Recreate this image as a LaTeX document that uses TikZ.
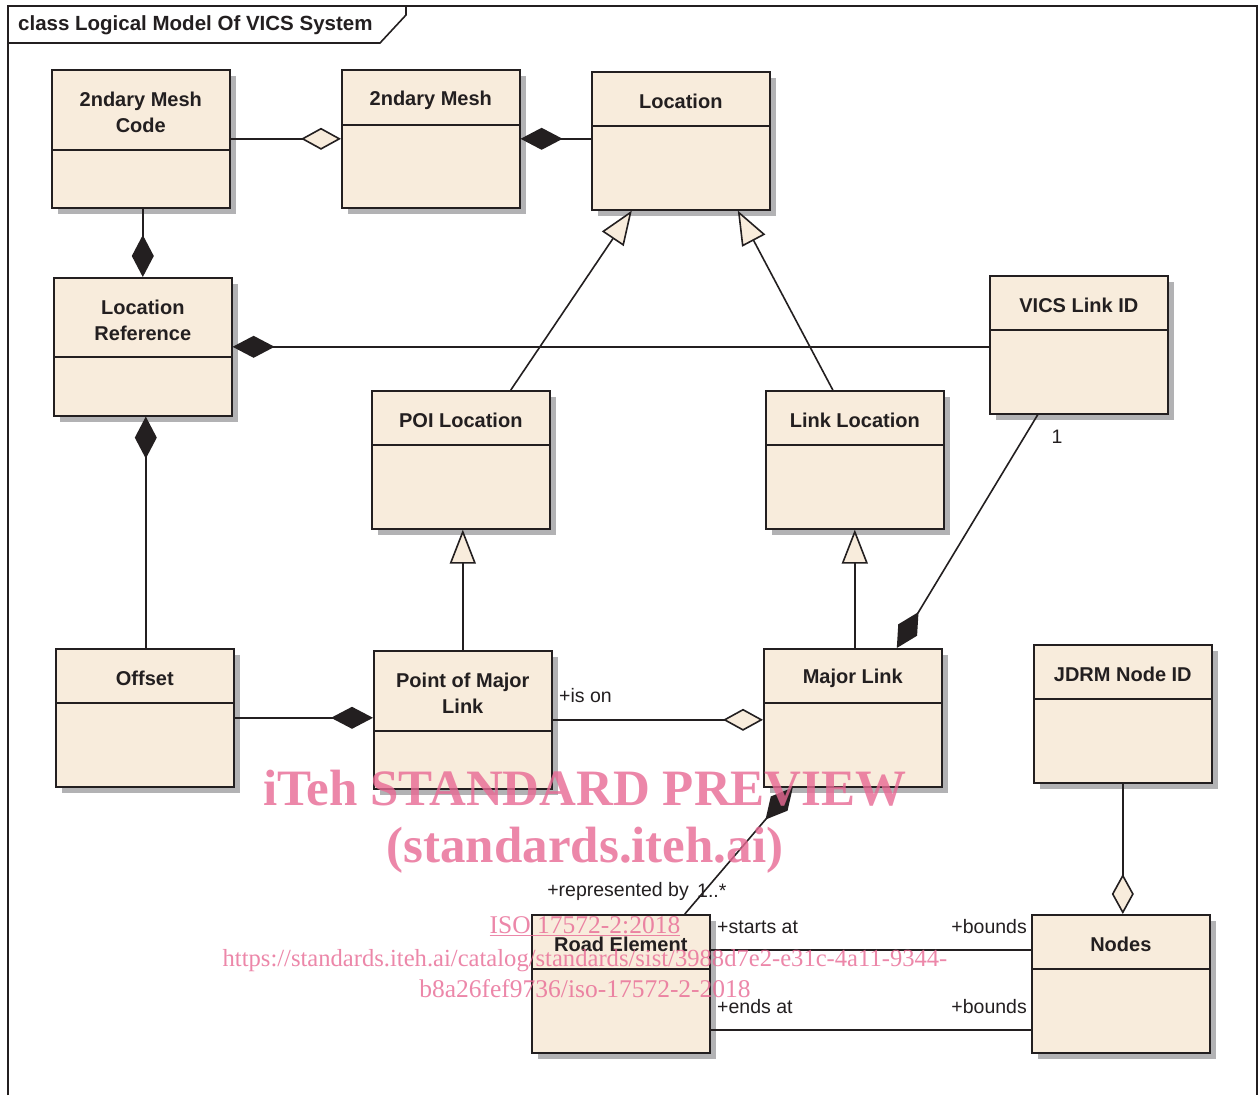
\documentclass[tikz,border=0pt]{standalone}
\usepackage{fontspec}
\setmainfont{Liberation Sans}
\newfontfamily\wmfont{Liberation Serif}
\usetikzlibrary{arrows.meta,shadows,calc}
\definecolor{beige}{RGB}{248,236,220}
\definecolor{ink}{RGB}{35,31,32}
\definecolor{shade}{RGB}{178,178,180}
\definecolor{wmpink}{RGB}{232,105,148}
\tikzset{
 cls/.style={draw=ink, line width=1.6pt, fill=beige, minimum width=178pt, minimum height=138pt, inner sep=0pt, anchor=north west, drop shadow={shadow xshift=6pt, shadow yshift=-6pt, fill=shade, opacity=1}},
 ctitle/.style={font=\fontsize{20}{26}\selectfont\bfseries, align=center, text=ink, inner sep=0pt},
 ln/.style={draw=ink, line width=1.6pt},
 comp/.style={ln, -{Diamond[length=42pt,width=22pt,fill=ink]}},
 aggr/.style={ln, -{Diamond[length=40pt,width=22pt,fill=beige]}},
 gen/.style={ln, -{Triangle[length=34pt,width=26pt,fill=beige]}},
 rlbl/.style={font=\fontsize{19.5}{22}\selectfont, text=ink, inner sep=0pt},
 wm/.style={text=wmpink, opacity=0.8, inner sep=0pt, anchor=base},
}
\newcommand\classbox[5]{%
 \node[cls] (#1) at (#2,#3) {};
 \draw[ln] ([yshift=-#4pt]#1.north west) -- ([yshift=-#4pt]#1.north east);
 \node[ctitle] (#1t) at ([yshift={-#4pt/2-3pt}]#1.north) {#5};
}
\begin{document}
\begin{tikzpicture}[x=1pt,y=-1pt]
\useasboundingbox (0,0) rectangle (1260,1095);
\fill[white] (0,0) rectangle (1260,1095);
% frame
\draw[ln] (8,1095) -- (8,6) -- (1257,6) -- (1257,1095);
\draw[ln] (8,43) -- (380,43) -- (406,15) -- (406,6);
\node[anchor=west, font=\fontsize{20.5}{24}\selectfont\bfseries, text=ink, inner sep=0pt] (title) at (18,25) {class Logical Model Of VICS System};
% classes
\classbox{mc}{51}{69}{81}{2ndary Mesh\\Code}
\classbox{mesh}{341}{69}{56}{2ndary Mesh}
\classbox{loc}{591}{71}{55}{Location}
\classbox{lr}{53}{277}{80}{Location\\Reference}
\classbox{vics}{989}{275}{55}{VICS Link ID}
\classbox{poi}{371}{390}{55}{POI Location}
\classbox{ll}{765}{390}{55}{Link Location}
\classbox{off}{55}{648}{55}{Offset}
\classbox{pml}{373}{650}{81}{Point of Major\\Link}
\classbox{ml}{763}{648}{55}{Major Link}
\classbox{jdrm}{1033}{644}{55}{JDRM Node ID}
\classbox{road}{531}{914}{55}{Road Element}
\classbox{nodes}{1031}{914}{55}{Nodes}
% connectors
\draw[aggr] (mc.east) -- (mc.east -| mesh.west);
\draw[comp] (loc.west |- mc.east) -- (mesh.east |- mc.east);
\draw[comp] ([xshift=2pt]mc.south) -- ([xshift=2pt]mc.south |- lr.north);
\draw[comp] (vics.west |- lr.east) -- (lr.east);
\draw[comp] ([xshift=1pt]off.north) -- ([xshift=1pt]off.north |- lr.south);
\draw[gen] ([xshift=50pt]poi.north) -- ([xshift=-49pt]loc.south);
\draw[gen] ([xshift=-22pt]ll.north) -- ([xshift=57pt]loc.south);
\draw[gen] (pml.north) -- (pml.north |- poi.south);
\draw[gen] (ll.south |- ml.north) -- (ll.south);
\draw[comp] ([xshift=-41pt]vics.south) -- ([xshift=44pt]ml.north);
\draw[aggr] (pml.east) -- (pml.east -| ml.west);
\draw[comp] (off.east) -- (off.east -| pml.west);
\draw[comp] ([xshift=64pt]road.north) -- ([xshift=-60pt]ml.south);
\draw[aggr] (jdrm.south) -- (jdrm.south |- nodes.north);
\coordinate (r1) at ([yshift=-36pt]road.north east);
\coordinate (r2) at ([yshift=-116pt]road.north east);
\draw[ln] (r1) -- (r1 -| nodes.west);
\draw[ln] (r2) -- (r2 -| nodes.west);
% labels
\node[rlbl, anchor=west] (ison) at (559,696) {+is on};
\node[rlbl] (one) at (1057,437) {1};
\node[rlbl, anchor=east] (repby) at (689,891) {+represented by};
\node[rlbl, anchor=west] (mult) at (697,891) {1..*};
\node[rlbl, anchor=west] (sa) at (717,927) {+starts at};
\node[rlbl, anchor=east] (b1) at (1027,927) {+bounds};
\node[rlbl, anchor=west] (ea) at (717,1007) {+ends at};
\node[rlbl, anchor=east] (b2) at (1027,1007) {+bounds};
% watermark
\node[wm, font=\wmfont\bfseries\fontsize{51}{60}\selectfont] (wm1) at (585,805) {iTeh STANDARD PREVIEW};
\node[wm, font=\wmfont\bfseries\fontsize{51}{60}\selectfont] (wm2) at (585,862) {(standards.iteh.ai)};
\node[wm, font=\wmfont\fontsize{25.5}{30}\selectfont] (wm3) at (585,933) {\underline{ISO 17572-2:2018}};
\node[wm, font=\wmfont\fontsize{24.6}{30}\selectfont] (wm4) at (585,966) {https://standards.iteh.ai/catalog/standards/sist/3988d7e2-e31c-4a11-9344-};
\node[wm, font=\wmfont\fontsize{25.5}{30}\selectfont] (wm5) at (585,997) {b8a26fef9736/iso-17572-2-2018};
\end{tikzpicture}
\end{document}
